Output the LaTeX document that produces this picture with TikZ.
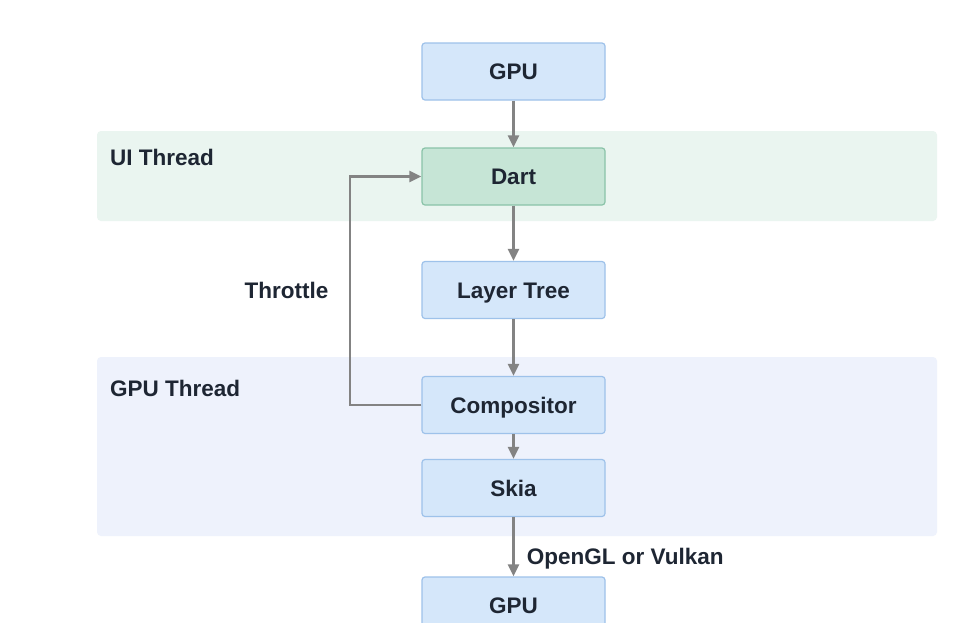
\documentclass[tikz,border=0pt]{standalone}
\usepackage{fontspec}
\setmainfont{Liberation Sans}
\usetikzlibrary{arrows.meta}
\definecolor{bandgreen}{HTML}{EAF5F0}
\definecolor{bandblue}{HTML}{EEF2FC}
\definecolor{boxblue}{HTML}{D5E7FA}
\definecolor{boxblueline}{HTML}{9EC2EA}
\definecolor{boxgreen}{HTML}{C6E5D6}
\definecolor{boxgreenline}{HTML}{8AC3A8}
\definecolor{txt}{HTML}{1E2633}
\definecolor{arr}{HTML}{838383}
\tikzset{
  stepbox/.style={draw=boxblueline, fill=boxblue, line width=1.2pt, rounded corners=3pt,
    minimum width=183pt, minimum height=57pt, inner sep=0pt, text height=16pt, text depth=0pt,
    font=\fontsize{22.5}{26}\selectfont\bfseries, text=txt},
  greenbox/.style={stepbox, draw=boxgreenline, fill=boxgreen},
  band/.style={rounded corners=4pt, draw=none},
  lbl/.style={font=\fontsize{22.5}{26}\selectfont\bfseries, text=txt, inner sep=0pt},
  conn/.style={draw=arr, line width=2.6pt, -{Triangle[length=12pt,width=11pt]}},
}
\begin{document}
\begin{tikzpicture}[x=1pt,y=-1pt]
\useasboundingbox (0,0) rectangle (969,622);
\clip (0,0) rectangle (969,622);
\fill[white] (0,0) rectangle (969,622);
\fill[band, bandgreen] (97,131) rectangle (937,221);
\fill[band, bandblue] (97,357) rectangle (937,536);
\node[lbl, anchor=west] (uit) at (110,157) {UI Thread};
\node[lbl, anchor=west] (gput) at (110,388) {GPU Thread};

\node[stepbox] (gpu1) at (513.5,71.5) {GPU};
\node[greenbox] (dart) at (513.5,176.5) {Dart};
\node[stepbox] (layer) at (513.5,290) {Layer Tree};
\node[stepbox] (comp) at (513.5,405) {Compositor};
\node[stepbox] (skia) at (513.5,488) {Skia};
\node[stepbox] (gpu2) at (513.5,605.5) {GPU};

\draw[conn] (gpu1) -- (dart);
\draw[conn] (dart) -- (layer);
\draw[conn] (layer) -- (comp);
\draw[conn] (comp) -- (skia);
\draw[conn] (skia) -- node[lbl, anchor=west, xshift=12pt, yshift=-12pt] (ogl) {OpenGL or Vulkan} (gpu2);
\coordinate (t1) at (350,405);
\coordinate (t2) at (350,176.5);
\draw[conn] (comp.west) -- (t1) -- (t2) -- (dart.west);
\node[lbl] (thr) at (286.5,290) {Throttle};
\end{tikzpicture}
\end{document}
